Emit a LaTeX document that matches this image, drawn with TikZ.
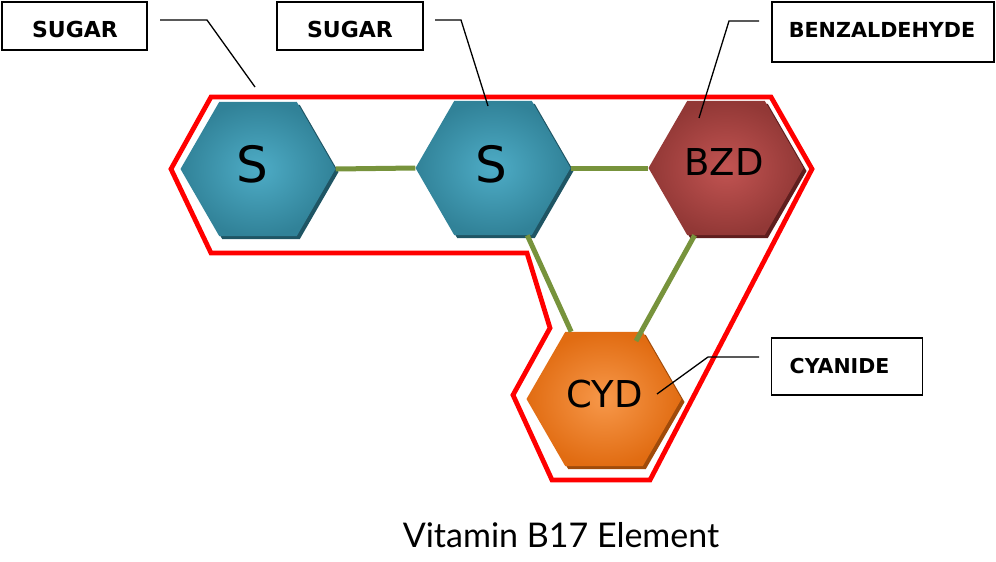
\documentclass[tikz,border=0pt]{standalone}
\usepackage{fontspec}
\setmainfont{DejaVu Sans}
\newfontfamily\titlefont{Lato}
\usetikzlibrary{shapes.geometric,calc}
\definecolor{tealout}{RGB}{49,130,152}
\definecolor{tealin}{RGB}{78,172,198}
\definecolor{tealsh}{RGB}{31,85,100}
\definecolor{bzdout}{RGB}{146,56,54}
\definecolor{bzdin}{RGB}{194,84,82}
\definecolor{bzdsh}{RGB}{95,30,30}
\definecolor{cydout}{RGB}{225,108,18}
\definecolor{cydin}{RGB}{247,152,74}
\definecolor{cydsh}{RGB}{160,75,10}
\definecolor{bond}{RGB}{119,147,60}
\tikzset{
  hexa/.style={regular polygon, regular polygon sides=6, minimum size=155pt, inner sep=0pt, draw=none},
  hexsh/.style={hexa, fill=#1},
  conn/.style={draw=bond, line width=5pt},
  leader/.style={draw=black, line width=1.3pt},
  lblbox/.style={draw=black, line width=1.3pt, inner sep=0pt},
  lbltext/.style={font=\bfseries\fontsize{22}{26}\selectfont, inner sep=0pt},
  hextext/.style={font=\fontsize{37}{42}\selectfont, inner sep=0pt},
  outline/.style={draw=red, line width=4.8pt, line join=miter}
}
\begin{document}
\begin{tikzpicture}[x=1pt,y=-1pt]
\useasboundingbox (0,0) rectangle (996,562);
% red outline
\draw[outline] (211,97) -- (771,97) -- (812,169) -- (650,480) -- (552,480) -- (513,395) -- (550,328) -- (527,253) -- (211,253) -- (171,169) -- cycle;
% shadows
\node[hexsh=tealsh] (s1sh) at (261,172) {};
\node[hexsh=tealsh] (s2sh) at (496,171) {};
\node[hexsh=bzdsh] (bzdsh) at (729,171) {};
\node[hexsh=cydsh] (cydsh) at (607,402) {};
% hexagons
\node[hexa, inner color=tealin, outer color=tealout] (s1) at (258,169) {};
\node[hexa, inner color=tealin, outer color=tealout] (s2) at (493,168) {};
\node[hexa, inner color=bzdin, outer color=bzdout] (bzd) at (726,168) {};
\node[hexa, inner color=cydin, outer color=cydout] (cyd) at (604,399) {};
% bonds
\coordinate (cydtop) at (636,341);
\draw[conn] (s1.east) -- (s2.west);
\draw[conn] (s2.east) -- (bzd.west);
\draw[conn] (s2.-63) -- (cyd.116);
\draw[conn] (bzd.-115) -- (cydtop);
% hex texts
\node[font=\fontsize{50}{56}\selectfont, inner sep=0pt] (s1t) at (252.5,164) {S};
\node[font=\fontsize{50}{56}\selectfont, inner sep=0pt] (s2t) at (491.5,164) {S};
\node[hextext] (bzdt) at (724,162) {BZD};
\node[hextext] (cydt) at (604.5,394) {CYD};
% label boxes
\node[lblbox, minimum width=145pt, minimum height=48pt] (sug1) at (74.5,26) {};
\node[lbltext] (sug1t) at (75,29) {SUGAR};
\node[lblbox, minimum width=146pt, minimum height=48pt] (sug2) at (350,26) {};
\node[lbltext] (sug2t) at (350,29) {SUGAR};
\node[lblbox, minimum width=222pt, minimum height=60pt] (benz) at (883,32) {};
\node[lbltext, font=\bfseries\fontsize{20.7}{24}\selectfont] (benzt) at (882,30) {BENZALDEHYDE};
\node[lblbox, minimum width=151pt, minimum height=57pt] (cyan) at (847,366.5) {};
\node[lbltext, font=\bfseries\fontsize{20.5}{24}\selectfont] (cyant) at (839.5,366) {CYANIDE};
% leaders
\coordinate (l1a) at (160,20); \coordinate (l1b) at (207,20); \coordinate (l1c) at (255,87);
\coordinate (l2a) at (435,20); \coordinate (l2b) at (461,20); \coordinate (l2c) at (488,106);
\coordinate (l3a) at (759,21); \coordinate (l3b) at (729,21); \coordinate (l3c) at (699,118);
\coordinate (l4a) at (759,357); \coordinate (l4b) at (708,357); \coordinate (l4c) at (657,394);
\draw[leader] (l1a) -- (l1b) -- (l1c);
\draw[leader] (l2a) -- (l2b) -- (l2c);
\draw[leader] (l3a) -- (l3b) -- (l3c);
\draw[leader] (l4a) -- (l4b) -- (l4c);
% title
\node[font=\titlefont\fontsize{34}{40}\selectfont, inner sep=0pt] (title) at (561,535) {Vitamin B17 Element};
\end{tikzpicture}
\end{document}
